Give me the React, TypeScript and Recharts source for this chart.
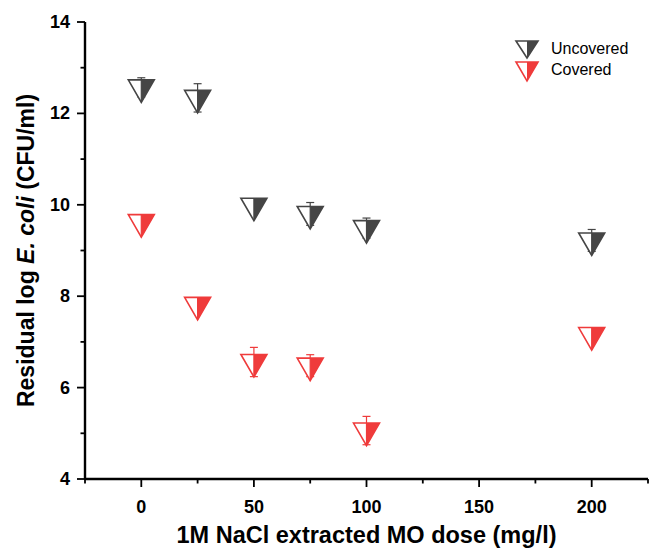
import React from 'react';
import { ScatterChart, Scatter, XAxis, YAxis, ErrorBar, Legend } from 'recharts';

const doses = [0, 25, 50, 75, 100, 200];
const uncoveredValues = [12.57, 12.34, 9.98, 9.8, 9.49, 9.22];
const uncoveredErrors = [0.21, 0.31, 0.12, 0.25, 0.22, 0.24];
const coveredValues = [9.62, 7.81, 6.56, 6.48, 5.06, 7.15];
const coveredErrors = [0.1, 0.13, 0.32, 0.24, 0.31, 0.12];

const seriesNames = ['Uncovered', 'Covered'];
const seriesColors = ['#454545', '#ef3b3b'];

const xTicks = [-25, 0, 25, 50, 75, 100, 125, 150, 175, 200, 225];
const xLabeledTicks = [0, 50, 100, 150, 200];
const yTicks = [4, 5, 6, 7, 8, 9, 10, 11, 12, 13, 14];
const yLabeledTicks = [4, 6, 8, 10, 12, 14];

const uncoveredData = doses.map((d, i) => ({ x: d, y: uncoveredValues[i], err: uncoveredErrors[i] }));
const coveredData = doses.map((d, i) => ({ x: d, y: coveredValues[i], err: coveredErrors[i] }));

const FONT = 'Liberation Sans, Arial, Helvetica, sans-serif';

const makeShape = (color: string) => (props: any) => {
  const { cx, cy } = props;
  if (cx == null || cy == null) return <g />;
  const s = 26;
  const h = (s * Math.sqrt(3)) / 2;
  const top = cy - h / 3;
  const bottom = cy + (2 * h) / 3;
  const left = cx - s / 2;
  const right = cx + s / 2;
  return (
    <g>
      <polygon points={`${left},${top} ${right},${top} ${cx},${bottom}`} fill="#fff" />
      <polygon points={`${cx},${top} ${right},${top} ${cx},${bottom}`} fill={color} />
      <polygon
        points={`${left},${top} ${right},${top} ${cx},${bottom}`}
        fill="none"
        stroke={color}
        strokeWidth={1.6}
      />
      <line x1={cx} y1={top} x2={cx} y2={bottom} stroke={color} strokeWidth={1.2} />
    </g>
  );
};

const XTick = (props: any) => {
  const { x, y, payload } = props;
  const v = payload.value;
  const major = xLabeledTicks.includes(v);
  return (
    <g>
      <line x1={x} y1={y} x2={x} y2={y + (major ? 8 : 4.5)} stroke="#000" strokeWidth={1.8} />
      {major && (
        <text x={x} y={y + 34} textAnchor="middle" fontFamily={FONT} fontWeight="bold" fontSize={18} fill="#000">
          {v}
        </text>
      )}
    </g>
  );
};

const YTick = (props: any) => {
  const { x, y, payload } = props;
  const v = payload.value;
  const major = yLabeledTicks.includes(v);
  return (
    <g>
      <line x1={x} y1={y} x2={x - (major ? 8 : 4.5)} y2={y} stroke="#000" strokeWidth={1.8} />
      {major && (
        <text x={x - 15} y={y + 6} textAnchor="end" fontFamily={FONT} fontWeight="bold" fontSize={18} fill="#000">
          {v}
        </text>
      )}
    </g>
  );
};

const YTitle = (p: any) => {
  const vb = p.viewBox;
  const cx = 26;
  const cy = vb.y + vb.height / 2;
  return (
    <text
      transform={`rotate(-90, ${cx}, ${cy})`}
      x={cx}
      y={cy}
      textAnchor="middle"
      dominantBaseline="central"
      fontFamily={FONT}
      fontWeight="bold"
      fontSize={23}
      fill="#000"
    >
      {'Residual log '}
      <tspan fontStyle="italic">E. coli</tspan>
      {' (CFU/ml)'}
    </text>
  );
};

const XTitle = (p: any) => {
  const vb = p.viewBox;
  const cx = vb.x + vb.width / 2;
  return (
    <text x={cx} y={543} textAnchor="middle" fontFamily={FONT} fontWeight="bold" fontSize={23.5} fill="#000">
      1M NaCl extracted MO dose (mg/l)
    </text>
  );
};

const LegendContent = () => (
  <svg width={150} height={50} style={{ display: 'block' }}>
    <polygon points="6,5 28,5 17,22" fill="#fff" />
    <polygon points="17,5 28,5 17,22" fill={seriesColors[0]} />
    <polygon points="6,5 28,5 17,22" fill="none" stroke={seriesColors[0]} strokeWidth={1.6} />
    <polygon points="6,26 28,26 17,45" fill="#fff" />
    <polygon points="17,26 28,26 17,45" fill={seriesColors[1]} />
    <polygon points="6,26 28,26 17,45" fill="none" stroke={seriesColors[1]} strokeWidth={1.6} />
    <text x={41} y={18} fontFamily={FONT} fontSize={16} fill="#000">
      {seriesNames[0]}
    </text>
    <text x={41} y={39} fontFamily={FONT} fontSize={16} fill="#000">
      {seriesNames[1]}
    </text>
  </svg>
);

export default function App() {
  return (
    <div style={{ position: 'absolute', left: 0, top: 0, width: 657, height: 550, background: '#fff' }}>
      <ScatterChart width={657} height={550} margin={{ top: 22, right: 9, bottom: 31, left: 0 }}>
        <XAxis
          type="number"
          dataKey="x"
          domain={[-25, 225]}
          ticks={xTicks}
          interval={0}
          allowDataOverflow
          height={40}
          tickSize={0}
          tickMargin={0}
          tickLine={false}
          tick={<XTick />}
          axisLine={{ stroke: '#000', strokeWidth: 2.4 }}
          label={{ content: XTitle } as any}
        />
        <XAxis
          xAxisId="top"
          orientation="top"
          type="number"
          domain={[-25, 225]}
          height={0}
          tick={false}
          tickLine={false}
          axisLine={{ stroke: '#000', strokeWidth: 2 }}
        />
        <YAxis
          type="number"
          dataKey="y"
          domain={[4, 14]}
          ticks={yTicks}
          interval={0}
          allowDataOverflow
          width={85}
          tickSize={0}
          tickMargin={0}
          tickLine={false}
          tick={<YTick />}
          axisLine={{ stroke: '#000', strokeWidth: 2.4 }}
          label={{ content: YTitle } as any}
        />
        <YAxis
          yAxisId="right"
          orientation="right"
          type="number"
          domain={[4, 14]}
          width={0}
          tick={false}
          tickLine={false}
          axisLine={{ stroke: '#000', strokeWidth: 2 }}
        />
        <Legend
          layout="vertical"
          align="center"
          verticalAlign="middle"
          content={LegendContent as any}
          wrapperStyle={{ position: 'absolute', left: 510, top: 36, width: 150, height: 50 }}
        />
        <Scatter
          name={seriesNames[0]}
          data={uncoveredData}
          shape={makeShape(seriesColors[0])}
          isAnimationActive={false}
        >
          <ErrorBar dataKey="err" direction="y" width={4} stroke={seriesColors[0]} strokeWidth={1.2} />
        </Scatter>
        <Scatter
          name={seriesNames[1]}
          data={coveredData}
          shape={makeShape(seriesColors[1])}
          isAnimationActive={false}
        >
          <ErrorBar dataKey="err" direction="y" width={4} stroke={seriesColors[1]} strokeWidth={1.2} />
        </Scatter>
      </ScatterChart>
    </div>
  );
}
